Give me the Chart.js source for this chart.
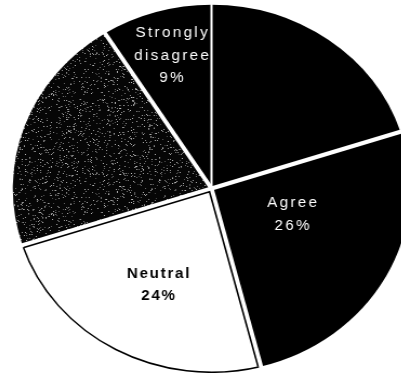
<!DOCTYPE html>
<html>
<head>
<meta charset="utf-8">
<script src="https://cdn.jsdelivr.net/npm/chart.js@4/dist/chart.umd.min.js"></script>
<style>
  html, body { margin: 0; padding: 0; background: #fff; width: 401px; height: 373px; overflow: hidden; }
  #wrap { position: absolute; left: 27px; top: 4px; width: 369px; height: 369px;
          transform: scaleX(1.0815); transform-origin: 50% 50%; }
  canvas { display: block; }
</style>
</head>
<body>
<div id="wrap"><canvas id="pie" width="369" height="369"></canvas></div>
<script>
// Survey answers, clockwise from 12 o'clock
const categories = ['Strongly agree', 'Agree', 'Neutral', 'Disagree', 'Strongly disagree'];
const shares = [20, 26, 24, 21, 9];
// Words printed inside a slice (the percentage is appended); null = no caption
const captionWords = [null, ['Agree'], ['Neutral'], null, ['Strongly', 'disagree']];

// Caption placement inside each slice: t = fraction along the sweep, r = fraction of radius
const captionSpot = [null, { t: 0.40, r: 0.43 }, { t: 0.48, r: 0.59 }, null, { t: 0.52, r: 0.75 }];
const captionStyle = [null,
  { color: '#fff', weight: 'normal', spacing: 2.2 },
  { color: '#000', weight: 'bold', spacing: 1.6 },
  null,
  { color: '#fff', weight: 'normal', spacing: 2.2 }];

// Small deterministic hash for the grainy fill
function hash(x, y) {
  let n = Math.imul(x, 374761393) + Math.imul(y, 668265263);
  n = Math.imul(n ^ (n >>> 13), 1274126177);
  n = n ^ (n >>> 16);
  return ((n >>> 0) % 10000) / 10000;
}

function grainFill() {
  const size = 120;
  const c = document.createElement('canvas');
  c.width = c.height = size;
  const g = c.getContext('2d');
  const img = g.createImageData(size, size);
  const d = img.data;
  for (let y = 0; y < size; y++) {
    for (let x = 0; x < size; x++) {
      const k = (y * size + x) * 4;
      let v = 6;
      if (hash(x, y) < 0.09) v = 70 + Math.floor(hash(y + 11, x + 5) * 120);
      d[k] = d[k + 1] = d[k + 2] = v;
      d[k + 3] = 255;
    }
  }
  g.putImageData(img, 0, 0);
  return g.createPattern(c, 'repeat');
}

const fills = ['#000', '#000', '#fff', grainFill(), '#000'];

// White separators between slices, plus the dark rim on the light slice
const separators = {
  id: 'separators',
  afterDatasetsDraw(chart) {
    const ctx = chart.ctx;
    const arcs = chart.getDatasetMeta(0).data;
    ctx.save();
    ctx.strokeStyle = '#fff';
    ctx.lineCap = 'butt';
    arcs.forEach((arc, i) => {
      const { x, y, startAngle, outerRadius } = arc.getProps(['x', 'y', 'startAngle', 'outerRadius'], true);
      ctx.lineWidth = i === 0 ? 2 : 4;
      ctx.beginPath();
      ctx.moveTo(x, y);
      ctx.lineTo(x + Math.cos(startAngle) * (outerRadius + 4), y + Math.sin(startAngle) * (outerRadius + 4));
      ctx.stroke();
    });
    // inset dark edges of the white slice
    arcs.forEach((arc, i) => {
      if (fills[i] !== '#fff') return;
      const { x, y, startAngle: s, endAngle: e, outerRadius } =
        arc.getProps(['x', 'y', 'startAngle', 'endAngle', 'outerRadius'], true);
      const d = 2.6, R = outerRadius - 0.5;
      const half = (e - s) / 2, mid = (s + e) / 2;
      const apexR = d / Math.sin(half);
      const t = Math.sqrt(R * R - d * d);
      const p1 = [x + d * Math.cos(s + Math.PI / 2) + t * Math.cos(s), y + d * Math.sin(s + Math.PI / 2) + t * Math.sin(s)];
      const p2 = [x + d * Math.cos(e - Math.PI / 2) + t * Math.cos(e), y + d * Math.sin(e - Math.PI / 2) + t * Math.sin(e)];
      ctx.strokeStyle = '#000';
      ctx.lineWidth = 1.6;
      ctx.lineJoin = 'miter';
      ctx.beginPath();
      ctx.moveTo(p1[0], p1[1]);
      ctx.lineTo(x + apexR * Math.cos(mid), y + apexR * Math.sin(mid));
      ctx.lineTo(p2[0], p2[1]);
      ctx.stroke();
    });
    ctx.restore();
  }
};

// Captions drawn inside the slices
const captions = {
  id: 'captions',
  afterDraw(chart) {
    const ctx = chart.ctx;
    const arcs = chart.getDatasetMeta(0).data;
    ctx.save();
    ctx.textAlign = 'center';
    ctx.textBaseline = 'middle';
    arcs.forEach((arc, i) => {
      if (!captionWords[i]) return;
      const lines = captionWords[i].concat([shares[i] + '%']);
      const spot = captionSpot[i], st = captionStyle[i];
      const { x, y, startAngle, endAngle, outerRadius } =
        arc.getProps(['x', 'y', 'startAngle', 'endAngle', 'outerRadius'], true);
      const a = startAngle + (endAngle - startAngle) * spot.t;
      const cx = x + Math.cos(a) * outerRadius * spot.r;
      const cy = y + Math.sin(a) * outerRadius * spot.r;
      const lh = 22.5;
      ctx.fillStyle = st.color;
      ctx.font = st.weight + ' 14px "Liberation Sans", Arial, sans-serif';
      ctx.letterSpacing = st.spacing + 'px';
      lines.forEach((ln, k) => {
        ctx.fillText(ln, cx + st.spacing / 2, cy + (k - (lines.length - 1) / 2) * lh);
      });
    });
    ctx.restore();
  }
};

new Chart(document.getElementById('pie'), {
  type: 'pie',
  data: {
    labels: categories,
    datasets: [{
      data: shares,
      backgroundColor: fills,
      borderColor: ['#000', '#000', '#000', '#000', '#000'],
      borderWidth: [0, 0, 1.5, 0, 0],
      hoverOffset: 0,
      offset: 0
    }]
  },
  options: {
    responsive: false,
    devicePixelRatio: 1,
    animation: false,
    events: [],
    layout: { padding: 0 },
    plugins: { legend: { display: false }, tooltip: { enabled: false } }
  },
  plugins: [separators, captions]
});
</script>
</body>
</html>
